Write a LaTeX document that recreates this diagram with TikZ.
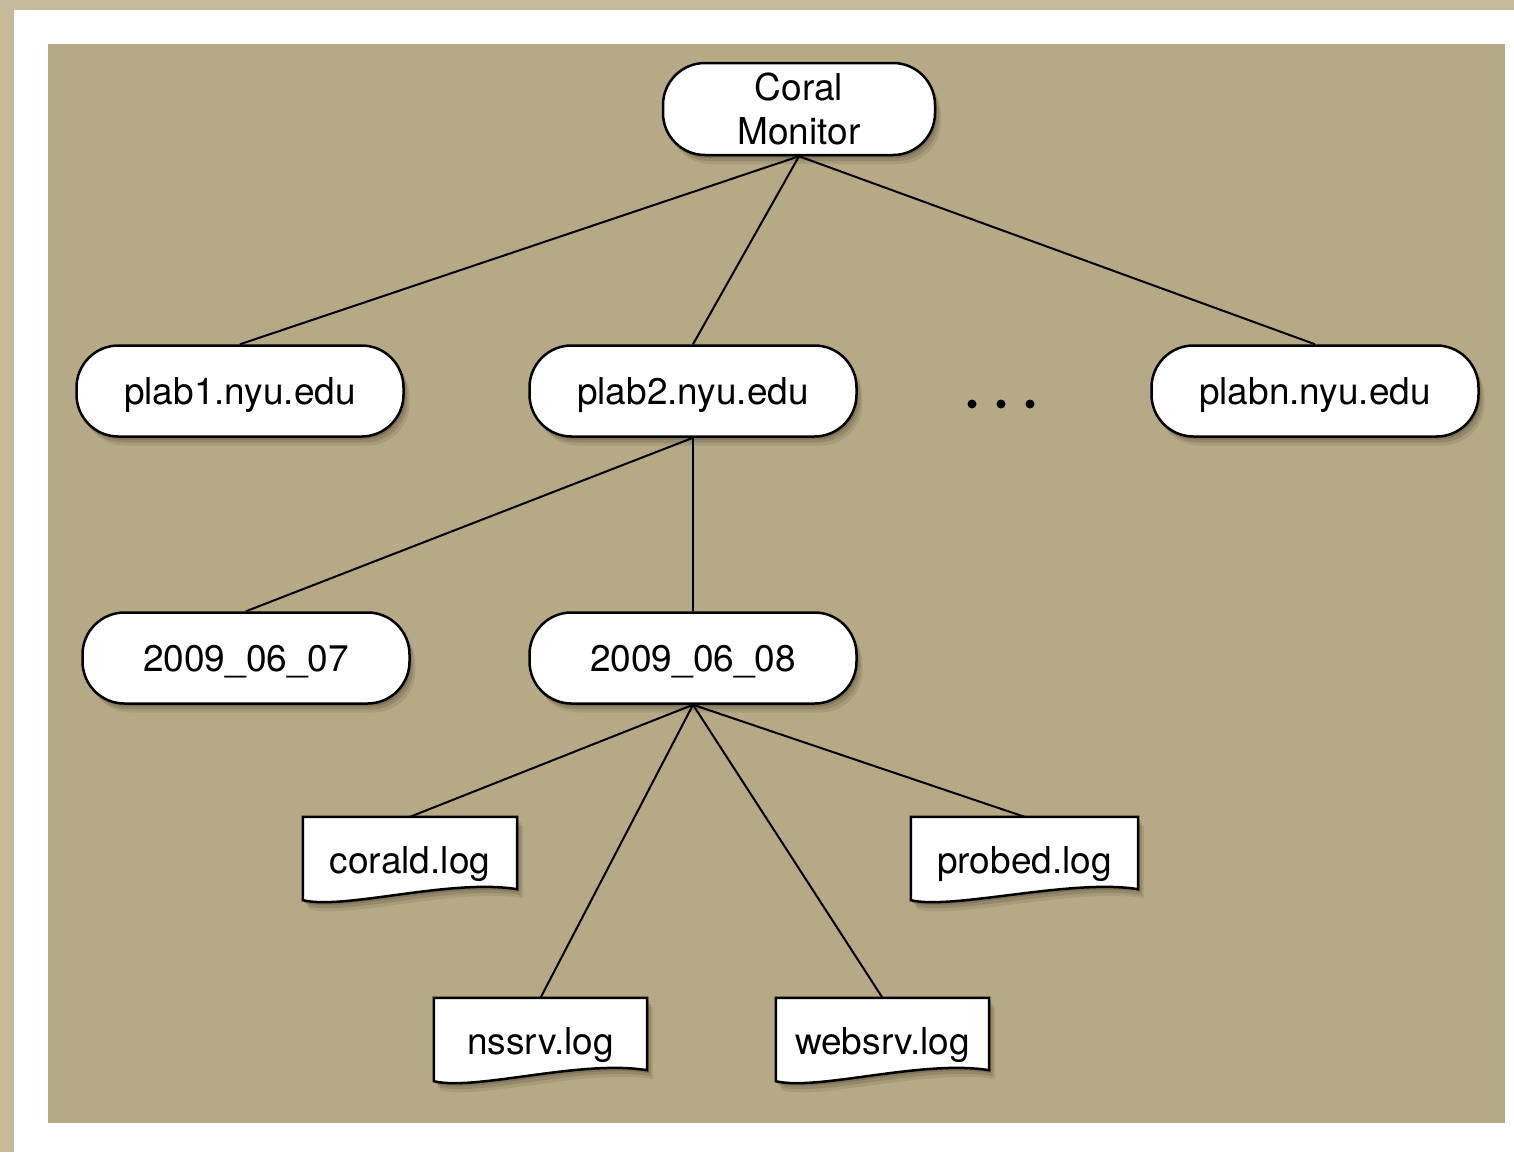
\documentclass[tikz,border=0pt]{standalone}
\usepackage{fontspec}
\setmainfont{TeX Gyre Heros}
\usetikzlibrary{shadows}

\definecolor{outertan}{RGB}{196,186,154}
\definecolor{innertan}{RGB}{181,169,134}
\definecolor{shade}{RGB}{70,60,40}

\pgfdeclarelayer{back}
\pgfsetlayers{back,main}

\tikzset{
  soft/.style={
    drop shadow={shadow xshift=6pt, shadow yshift=-9pt, opacity=0.12, fill=shade},
    drop shadow={shadow xshift=4pt, shadow yshift=-6pt, opacity=0.18, fill=shade},
    drop shadow={shadow xshift=2pt, shadow yshift=-3pt, opacity=0.25, fill=shade}},
  host/.style={draw, line width=2.5pt, fill=white, rounded corners=42pt, soft,
    minimum width=327pt, minimum height=91pt, inner sep=0pt,
    text height=35pt, text depth=8pt,
    font=\fontsize{37}{44}\selectfont, align=center},
  logfile/.style={inner sep=0pt, minimum width=214pt, minimum height=88pt,
    text height=33pt, text depth=8pt,
    font=\fontsize{37}{44}\selectfont},
  link/.style={line width=2pt}
}

% wavy document outline round a log node
\newcommand\logshape[1]{%
  \draw[line width=2.5pt, fill=white, soft]
    (#1.north west) -- (#1.north east) -- ([yshift=16pt]#1.south east)
    .. controls ([xshift=-67pt,yshift=27pt]#1.south east)
    and ([xshift=42pt,yshift=-5pt]#1.south west) .. ([yshift=5pt]#1.south west)
    -- cycle;}

\begin{document}
\begin{tikzpicture}[x=1pt,y=-1pt]
	\useasboundingbox (0,0) rectangle (1514,1152);
	\begin{pgfonlayer}{back}
	%Shape: page
	\fill[outertan] (0,0) rectangle (1514,1152);
	\fill[white] (14,10) rectangle (1514,1152);
	\fill[innertan] (48,44) rectangle (1505,1123);
	\end{pgfonlayer}

	%level 0
	\draw (799,109) node[host, minimum width=272pt, minimum height=92pt,
		text height=, text depth=] (coral) {Coral\\Monitor};

	%level 1
	\def\y{391}
	% Text Node
	\draw (240,\y) node[host] (plab1) {plab1.nyu.edu};
	% Text Node
	\draw (693,\y) node[host] (plab2) {plab2.nyu.edu};
	% Text Node
	\draw (1315,\y) node[host] (plabn) {plabn.nyu.edu};
	\foreach \dx in {972,1001,1030}
		\fill (\dx,404) circle (4.5pt);

	\draw[link] (coral.south) -- (plab1.north);
	\draw[link] (coral.south) -- (plab2.north);
	\draw[link] (coral.south) -- (plabn.north);

	%level 2
	\def\y{658}
	% Text Node
	\draw (246,\y) node[host] (day7) {2009\_06\_07};
	% Text Node
	\draw (693,\y) node[host] (day8) {2009\_06\_08};

	\draw[link] (plab2.south) -- (day7.north);
	\draw[link] (plab2.south) -- (day8.north);

	%level 3: log files
	% Text Node
	\draw (410,861) node[logfile] (corald) {corald.log};
	% Text Node
	\draw (1024.5,861) node[logfile, minimum width=227pt] (probed) {probed.log};
	% Text Node
	\draw (540.5,1042) node[logfile, minimum width=213pt] (nssrv) {nssrv.log};
	% Text Node
	\draw (882.5,1042) node[logfile, minimum width=213pt] (websrv) {websrv.log};
	\begin{pgfonlayer}{back}
	\logshape{corald}
	\logshape{probed}
	\logshape{nssrv}
	\logshape{websrv}
	\end{pgfonlayer}

	\draw[link] (day8.south) -- (corald.north);
	\draw[link] (day8.south) -- (nssrv.north);
	\draw[link] (day8.south) -- (websrv.north);
	\draw[link] (day8.south) -- (probed.north);
\end{tikzpicture}
\end{document}
